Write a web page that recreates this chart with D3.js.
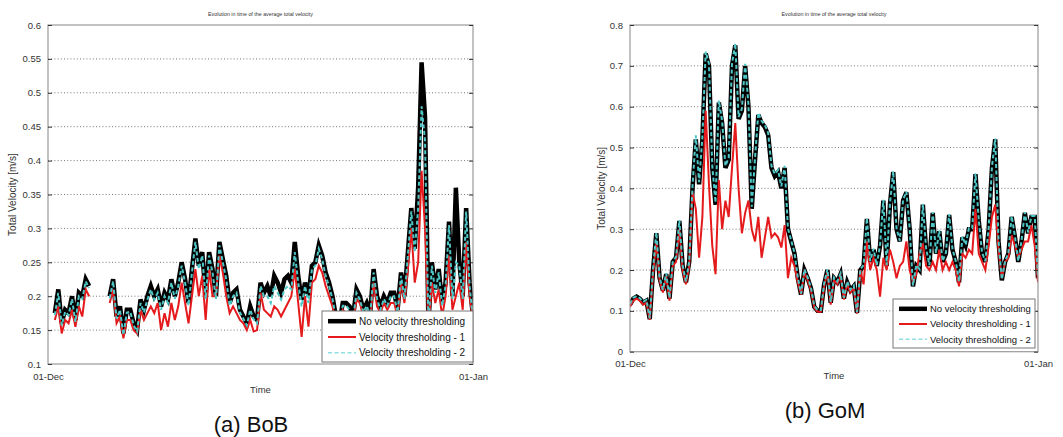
<!DOCTYPE html>
<html>
<head>
<meta charset="utf-8">
<script src="https://cdn.jsdelivr.net/npm/d3@7"></script>
<style>
  html, body { margin: 0; padding: 0; background: #fff; }
  svg { display: block; font-family: "Liberation Sans", Arial, sans-serif; }
</style>
</head>
<body>
<svg id="chart" width="1063" height="437"></svg>
<script>
// ---------------- DATA ----------------
// Samples every 6 hours from 01-Dec 00:00 to 01-Jan 00:00 (125 samples)
const startDate = "2012-12-01T00:00:00";
const endDate = "2013-01-01T00:00:00";
const stepHours = 6;

const seriesNames = ["No velocity thresholding", "Velocity thresholding - 1", "Velocity thresholding - 2"];
const titleText = "Evolution in time of the average total velocity";
const xTickLabels = ["01-Dec", "01-Jan"];
const yLabel = "Total Velocity [m/s]";
const xLabel = "Time";

// (a) BoB
const bobTicks = [0.1, 0.15, 0.2, 0.25, 0.3, 0.35, 0.4, 0.45, 0.5, 0.55, 0.6];
const bobNoThreshold = [
  null, null, 0.175, 0.21,
  0.16, 0.18, 0.175, 0.2,
  0.165, 0.205, 0.2, 0.225,
  0.215, null, null, null,
  null, null, 0.2, 0.225,
  0.17, 0.185, 0.145, 0.18,
  0.18, 0.16, 0.15, 0.195,
  0.18, 0.2, 0.215, 0.2,
  0.21, 0.185, 0.205, 0.195,
  0.225, 0.2, 0.22, 0.25,
  0.225, 0.19, 0.24, 0.285,
  0.245, 0.265, 0.2, 0.265,
  0.24, 0.2, 0.28, 0.255,
  0.23, 0.19, 0.205, 0.21,
  0.18, 0.17, 0.16, 0.185,
  0.17, 0.165, 0.22, 0.205,
  0.215, 0.2, 0.23, 0.22,
  0.205, 0.225, 0.23, 0.22,
  0.28, 0.23, 0.195, 0.22,
  0.2, 0.245, 0.25, 0.275,
  0.26, 0.235, 0.22, 0.2,
  0.17, 0.16, 0.19, 0.19,
  0.185, 0.17, 0.21, 0.2,
  0.18, 0.19, 0.175, 0.24,
  0.2, 0.185, 0.2, 0.19,
  0.205, 0.205, 0.18, 0.235,
  0.2, 0.265, 0.33, 0.27,
  0.36, 0.545, 0.465, 0.16,
  0.25, 0.21, 0.24, 0.19,
  0.22, 0.31, 0.2, 0.36,
  0.25, 0.2, 0.33, 0.22,
  0.17
];
const bobThreshold1 = [
  null, null, 0.165, 0.185,
  0.145, 0.165, 0.16, 0.18,
  0.155, 0.185, 0.17, 0.21,
  0.2, null, null, null,
  null, null, 0.19, 0.21,
  0.16, 0.17, 0.138, 0.165,
  0.165, 0.15, 0.145, 0.18,
  0.165, 0.175, 0.185, 0.175,
  0.19, 0.15, 0.175, 0.155,
  0.19, 0.165, 0.185, 0.22,
  0.19, 0.16, 0.2, 0.24,
  0.2, 0.23, 0.165, 0.24,
  0.2, 0.2, 0.26, 0.235,
  0.2, 0.175, 0.185, 0.175,
  0.165, 0.16, 0.15, 0.165,
  0.148, 0.15, 0.205, 0.18,
  0.175, 0.17, 0.185, 0.18,
  0.17, 0.18, 0.19, 0.2,
  0.24, 0.19, 0.14, 0.2,
  0.155, 0.22, 0.225, 0.245,
  0.235, 0.215, 0.2, 0.185,
  0.16, 0.15, 0.18, 0.175,
  0.17, 0.16, 0.195, 0.19,
  0.17, 0.175, 0.165, 0.22,
  0.185, 0.175, 0.19, 0.18,
  0.19, 0.19, 0.17, 0.22,
  0.19, 0.24, 0.3, 0.22,
  0.25, 0.385, 0.3, 0.15,
  0.22, 0.19, 0.21, 0.17,
  0.2, 0.26, 0.18, 0.2,
  0.22, 0.18, 0.28, 0.2,
  0.165
];
const bobThreshold2 = [
  null, null, 0.172, 0.205,
  0.157, 0.177, 0.172, 0.196,
  0.162, 0.2, 0.196, 0.222,
  0.212, null, null, null,
  null, null, 0.197, 0.222,
  0.167, 0.18, 0.143, 0.176,
  0.177, 0.157, 0.148, 0.19,
  0.176, 0.195, 0.21, 0.195,
  0.205, 0.18, 0.2, 0.19,
  0.22, 0.196, 0.215, 0.245,
  0.22, 0.186, 0.235, 0.28,
  0.24, 0.26, 0.196, 0.26,
  0.235, 0.196, 0.275, 0.25,
  0.225, 0.186, 0.2, 0.205,
  0.176, 0.167, 0.157, 0.18,
  0.166, 0.16, 0.215, 0.2,
  0.2, 0.19, 0.215, 0.205,
  0.195, 0.21, 0.215, 0.21,
  0.265, 0.22, 0.185, 0.215,
  0.19, 0.24, 0.245, 0.27,
  0.255, 0.23, 0.215, 0.196,
  0.167, 0.157, 0.186, 0.186,
  0.18, 0.166, 0.205, 0.195,
  0.176, 0.186, 0.17, 0.235,
  0.196, 0.18, 0.196, 0.186,
  0.2, 0.2, 0.176, 0.23,
  0.196, 0.26, 0.325, 0.265,
  0.33, 0.48, 0.43, 0.157,
  0.245, 0.205, 0.235, 0.186,
  0.215, 0.305, 0.196, 0.25,
  0.245, 0.196, 0.325, 0.215,
  0.167
];

// (b) GoM
const gomTicks = [0, 0.1, 0.2, 0.3, 0.4, 0.5, 0.6, 0.7, 0.8];
const gomNoThreshold = [
  0.115, 0.13, 0.135, 0.13,
  0.12, 0.125, 0.08, 0.2,
  0.29, 0.18, 0.15, 0.19,
  0.13, 0.22, 0.23, 0.32,
  0.21, 0.17, 0.22, 0.4,
  0.52, 0.41, 0.52, 0.73,
  0.7, 0.45, 0.36, 0.61,
  0.56, 0.45, 0.47, 0.7,
  0.75, 0.57, 0.59, 0.7,
  0.6, 0.35, 0.47, 0.58,
  0.56, 0.55, 0.53, 0.45,
  0.43, 0.44, 0.4, 0.45,
  0.3, 0.27, 0.24, 0.18,
  0.14, 0.2, 0.18, 0.155,
  0.11, 0.1, 0.1, 0.165,
  0.2, 0.12, 0.18, 0.17,
  0.19, 0.13, 0.17, 0.15,
  0.16, 0.095, 0.2, 0.21,
  0.325, 0.22, 0.25, 0.21,
  0.26, 0.37, 0.21, 0.36,
  0.44, 0.3, 0.27, 0.37,
  0.39, 0.3, 0.16, 0.21,
  0.2, 0.36, 0.25, 0.21,
  0.34, 0.24, 0.295, 0.22,
  0.24, 0.335, 0.25, 0.22,
  0.17, 0.28, 0.26, 0.3,
  0.3, 0.435, 0.32, 0.24,
  0.22, 0.3, 0.45, 0.52,
  0.27, 0.175, 0.22, 0.24,
  0.33, 0.28, 0.22, 0.27,
  0.34, 0.29, 0.33, 0.33,
  0.18
];
const gomThreshold1 = [
  0.11, 0.125, 0.13, 0.125,
  0.115, 0.12, 0.078, 0.19,
  0.27, 0.175, 0.145, 0.185,
  0.125, 0.21, 0.22, 0.3,
  0.2, 0.165, 0.21, 0.39,
  0.35, 0.23, 0.33, 0.59,
  0.41, 0.26, 0.19, 0.42,
  0.3, 0.37, 0.33, 0.45,
  0.56, 0.4, 0.29, 0.34,
  0.37, 0.3, 0.27, 0.33,
  0.23, 0.28, 0.33, 0.28,
  0.29, 0.28, 0.255, 0.31,
  0.18, 0.23, 0.21, 0.17,
  0.14, 0.195, 0.175, 0.15,
  0.108, 0.098, 0.098, 0.16,
  0.195, 0.115, 0.175, 0.165,
  0.185, 0.128, 0.165, 0.145,
  0.155, 0.093, 0.2, 0.165,
  0.27, 0.2, 0.23, 0.2,
  0.135, 0.23, 0.2, 0.25,
  0.22, 0.18, 0.21, 0.22,
  0.27, 0.2, 0.17, 0.19,
  0.24, 0.265, 0.21, 0.2,
  0.22, 0.2, 0.25, 0.2,
  0.22, 0.2, 0.22, 0.2,
  0.16, 0.24, 0.23, 0.25,
  0.24, 0.35, 0.24, 0.22,
  0.2, 0.26, 0.33, 0.36,
  0.25, 0.18, 0.22, 0.23,
  0.285, 0.26, 0.23, 0.25,
  0.27, 0.27, 0.31, 0.26,
  0.17
];
const gomThreshold2 = [
  0.117, 0.132, 0.136, 0.131,
  0.122, 0.127, 0.082, 0.202,
  0.292, 0.182, 0.152, 0.192,
  0.132, 0.222, 0.232, 0.322,
  0.212, 0.172, 0.222, 0.405,
  0.53, 0.415, 0.525, 0.735,
  0.705, 0.455, 0.365, 0.615,
  0.565, 0.455, 0.475, 0.705,
  0.755, 0.575, 0.595, 0.705,
  0.605, 0.355, 0.475, 0.585,
  0.565, 0.555, 0.535, 0.455,
  0.435, 0.445, 0.405, 0.455,
  0.302, 0.272, 0.242, 0.182,
  0.142, 0.202, 0.182, 0.157,
  0.112, 0.102, 0.102, 0.167,
  0.202, 0.122, 0.182, 0.172,
  0.192, 0.132, 0.172, 0.152,
  0.162, 0.097, 0.202, 0.212,
  0.327, 0.222, 0.252, 0.212,
  0.262, 0.372, 0.212, 0.362,
  0.442, 0.302, 0.272, 0.372,
  0.392, 0.302, 0.162, 0.212,
  0.202, 0.362, 0.252, 0.212,
  0.342, 0.242, 0.297, 0.222,
  0.242, 0.337, 0.252, 0.222,
  0.172, 0.282, 0.262, 0.302,
  0.302, 0.437, 0.322, 0.242,
  0.222, 0.302, 0.452, 0.522,
  0.272, 0.177, 0.222, 0.242,
  0.332, 0.282, 0.222, 0.272,
  0.342, 0.292, 0.332, 0.332,
  0.182
];

// ---------------- DRAWING ----------------
const svg = d3.select("#chart");
const t0 = new Date(startDate), t1 = new Date(endDate);
const times = bobNoThreshold.map((_, i) => d3.timeHour.offset(t0, i * stepHours));

const styles = [
  { color: "#000000", width: 4.5, dash: null },
  { color: "#e41a1c", width: 2, dash: null },
  { color: "#4ec6c6", width: 2, dash: "4,2.5" }
];

function drawPanel(cfg) {
  const g = svg.append("g");
  const x = d3.scaleTime().domain([t0, t1]).range([cfg.x0, cfg.x1]);
  const y = d3.scaleLinear().domain(cfg.yDomain).range([cfg.y1, cfg.y0]);

  // grid lines
  g.append("g").selectAll("line").data(cfg.ticks.filter(v => v > cfg.yDomain[0] && v < cfg.yDomain[1]))
    .join("line")
    .attr("x1", cfg.x0).attr("x2", cfg.x1)
    .attr("y1", d => y(d)).attr("y2", d => y(d))
    .attr("stroke", "#555").attr("stroke-width", 0.8).attr("stroke-dasharray", "1,2.2");

  // clip
  const clipId = "clip-" + cfg.id;
  svg.append("defs").append("clipPath").attr("id", clipId)
    .append("rect").attr("x", cfg.x0).attr("y", cfg.y0 - 2)
    .attr("width", cfg.x1 - cfg.x0).attr("height", cfg.y1 - cfg.y0 + 2);

  const lines = g.append("g").attr("clip-path", `url(#${clipId})`);
  cfg.series.forEach((vals, k) => {
    const data = vals.map((v, i) => ({ t: times[i], v }));
    const line = d3.line().defined(d => d.v != null)
      .x(d => x(d.t)).y(d => y(d.v));
    lines.append("path").datum(data)
      .attr("d", line)
      .attr("fill", "none")
      .attr("stroke", styles[k].color)
      .attr("stroke-width", styles[k].width)
      .attr("stroke-linejoin", "miter")
      .attr("stroke-dasharray", styles[k].dash);
  });

  // frame
  g.append("rect").attr("x", cfg.x0).attr("y", cfg.y0)
    .attr("width", cfg.x1 - cfg.x0).attr("height", cfg.y1 - cfg.y0)
    .attr("fill", "none").attr("stroke", "#9a9a9a").attr("stroke-width", 1.2);

  // y axis (left) with inward ticks
  const yAxis = d3.axisLeft(y).tickValues(cfg.ticks).tickSize(-4).tickPadding(7)
    .tickFormat(d3.format("~g"));
  const ya = g.append("g").attr("transform", `translate(${cfg.x0},0)`).call(yAxis);
  ya.select(".domain").remove();
  ya.selectAll("line").attr("stroke", "#333");
  ya.selectAll("text").attr("font-size", 9.5).attr("fill", "#333")
    .attr("font-family", "Liberation Sans, Arial, sans-serif");
  // right inward ticks
  const yr = g.append("g").attr("transform", `translate(${cfg.x1},0)`)
    .call(d3.axisRight(y).tickValues(cfg.ticks).tickSize(-4).tickFormat(""));
  yr.select(".domain").remove();
  yr.selectAll("line").attr("stroke", "#333");

  // x axis labels
  const xAxis = d3.axisBottom(x).tickValues([t0, t1]).tickSize(0).tickPadding(9)
    .tickFormat((d, i) => xTickLabels[i]);
  const xa = g.append("g").attr("transform", `translate(0,${cfg.y1})`).call(xAxis);
  xa.select(".domain").remove();
  xa.selectAll("text").attr("font-size", 9.5).attr("fill", "#333")
    .attr("font-family", "Liberation Sans, Arial, sans-serif");

  // title
  g.append("text").attr("x", (cfg.x0 + cfg.x1) / 2).attr("y", 16)
    .attr("text-anchor", "middle").attr("font-size", 5.3).attr("fill", "#333")
    .text(titleText);

  // axis labels
  g.append("text").attr("x", (cfg.x0 + cfg.x1) / 2).attr("y", cfg.timeY)
    .attr("text-anchor", "middle").attr("font-size", 9.5).attr("fill", "#333")
    .text(xLabel);
  g.append("text")
    .attr("transform", `translate(${cfg.yLabelX},${(cfg.y0 + cfg.y1) / 2}) rotate(-90)`)
    .attr("text-anchor", "middle").attr("font-size", 10).attr("fill", "#333")
    .text(yLabel);

  // caption
  g.append("text").attr("x", cfg.capX).attr("y", cfg.capY)
    .attr("text-anchor", "middle").attr("font-size", 22).attr("fill", "#111")
    .text(cfg.caption);

  // legend
  const L = cfg.legend;
  const lg = g.append("g");
  lg.append("rect").attr("x", L.x).attr("y", L.y).attr("width", L.w).attr("height", L.h)
    .attr("fill", "#fff").attr("stroke", "#777").attr("stroke-width", 1);
  seriesNames.forEach((name, k) => {
    const yy = L.y + L.h * (0.2 + 0.31 * k);
    lg.append("line").attr("x1", L.x + 6).attr("x2", L.x + 34).attr("y1", yy).attr("y2", yy)
      .attr("stroke", k === 2 ? "#8fe0e0" : styles[k].color)
      .attr("stroke-width", k === 2 ? 1.5 : styles[k].width)
      .attr("stroke-dasharray", styles[k].dash);
    lg.append("text").attr("x", L.x + 37).attr("y", yy + 3.5)
      .attr("font-size", L.fs).attr("fill", "#111").text(name);
  });
}

drawPanel({
  id: "bob", x0: 48, x1: 473, y0: 25, y1: 364,
  yDomain: [0.1, 0.6], ticks: bobTicks,
  series: [bobNoThreshold, bobThreshold1, bobThreshold2],
  timeY: 393, yLabelX: 16, caption: "(a) BoB", capX: 251, capY: 432,
  legend: { x: 322, y: 311, w: 151, h: 51, fs: 10 }
});

drawPanel({
  id: "gom", x0: 630, x1: 1038, y0: 25, y1: 351.7,
  yDomain: [0, 0.8], ticks: gomTicks,
  series: [gomNoThreshold, gomThreshold1, gomThreshold2],
  timeY: 379, yLabelX: 605, caption: "(b) GoM", capX: 825, capY: 418,
  legend: { x: 893, y: 299, w: 142, h: 49, fs: 9.5 }
});
</script>
</body>
</html>
